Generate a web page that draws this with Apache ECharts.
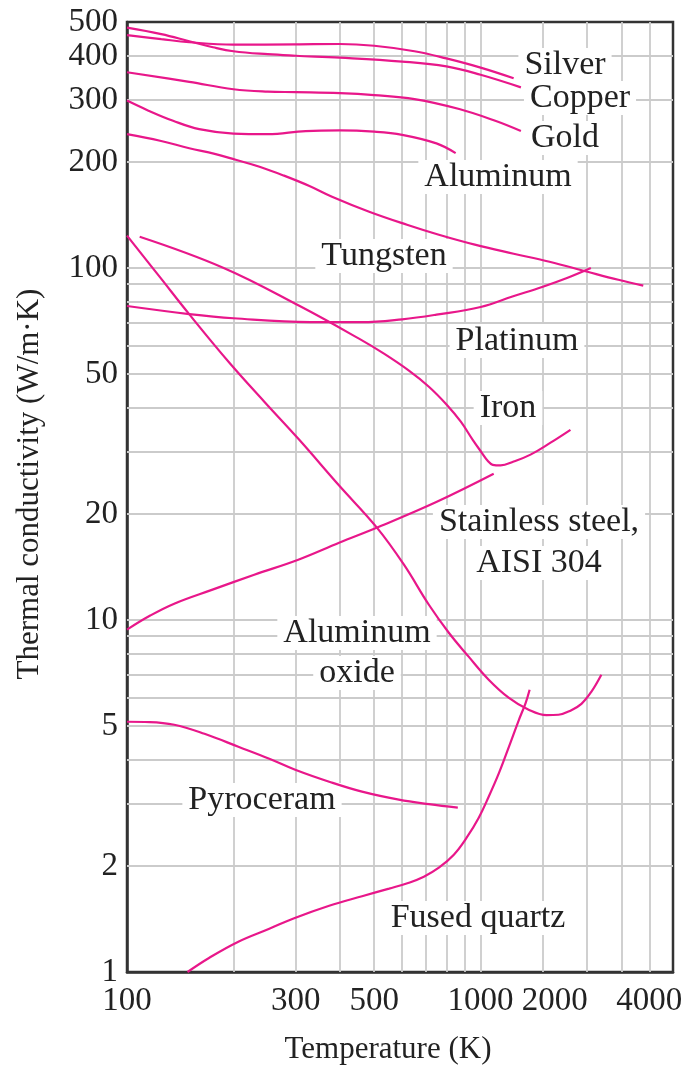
<!DOCTYPE html>
<html>
<head>
<meta charset="utf-8">
<title>Thermal conductivity of selected solids</title>
<script src="https://cdn.jsdelivr.net/npm/echarts@6/dist/echarts.min.js"></script>
<style>
  html, body { margin: 0; padding: 0; background: #fff; }
  #main { width: 687px; height: 1068px; }
</style>
</head>
<body>
<div id="main"></div>
<script>
// temperatures (K) and conductivities (W/m.K)
var silverT = [100, 125, 150, 200, 300, 400, 500, 650, 800, 1000, 1240];
var silverK = [459, 447, 438, 431, 432, 433, 428, 413, 394, 371, 346];

var copperT = [100, 125, 150, 175, 200, 250, 300, 400, 600, 800, 1000, 1300];
var copperK = [482, 462, 441, 424, 413, 405, 401, 396, 386, 374, 354, 326];

var goldT = [100, 150, 200, 250, 300, 400, 500, 650, 870, 1100, 1300];
var goldK = [360, 338, 322, 317, 316, 314, 310, 302, 283, 262, 245];

var aluminumT = [100, 115, 135, 160, 200, 250, 320, 400, 500, 600, 750, 850];
var aluminumK = [299, 280, 262, 248, 241, 240, 245, 246, 244, 239, 226, 212];

var tungstenT = [100, 124, 150, 177, 203, 237, 278, 328, 380, 484, 619, 762, 963, 1240, 1566, 2004, 2452, 2884];
var tungstenK = [240, 230, 219, 211, 203, 194, 183, 171, 159.4, 144.5, 132.7, 124.3, 116.5, 109.8, 104.2, 97.6, 92.6, 89.1];

var platinumT = [100, 150, 200, 330, 460, 600, 750, 1000, 1230, 1500, 1770, 2050];
var platinumK = [78, 74, 72, 70.2, 70.2, 71.5, 73.7, 77.5, 83, 88.5, 94, 100];

var ironT = [108.6, 187, 307, 453, 533, 627, 714, 802, 879, 950, 1007, 1047, 1082, 1139, 1240, 1384, 1577, 1795];
var ironK = [122.7, 100.2, 78.1, 63, 57.1, 51.1, 46, 40.9, 36.6, 32.5, 29.9, 28.35, 27.6, 27.5, 28.2, 29.5, 31.9, 34.7];

var steelT = [100, 116, 136, 174.5, 229, 305, 398, 516, 752, 1089];
var steelK = [9.39, 10.28, 11.13, 12.2, 13.45, 14.84, 16.58, 18.41, 21.68, 26.04];

var oxideT = [100, 123.6, 150.3, 194.8, 244.5, 307, 398, 509, 607, 714, 813, 925, 1054, 1200, 1367, 1536, 1660, 1795, 1928, 2058, 2195];
var oxideK = [123.6, 94.5, 73.7, 53.8, 41.7, 32.5, 24.1, 18.3, 14.36, 11.05, 9.2, 7.87, 6.77, 6.02, 5.56, 5.365, 5.38, 5.525, 5.78, 6.26, 6.99];

var pyroceramT = [100, 116, 136, 165.6, 206.5, 252.6, 299, 373, 462, 587, 714, 862];
var pyroceramK = [5.14, 5.13, 5.04, 4.75, 4.365, 4.036, 3.755, 3.472, 3.253, 3.087, 2.997, 2.93];

var quartzT = [148.3, 171, 206.5, 252.6, 297, 373, 462, 551, 627, 691, 762, 840, 913, 988, 1054, 1125, 1200, 1281, 1341, 1376];
var quartzK = [1.0, 1.098, 1.219, 1.327, 1.422, 1.543, 1.642, 1.725, 1.793, 1.865, 1.978, 2.154, 2.407, 2.744, 3.148, 3.66, 4.34, 5.18, 5.82, 6.34];

// axis ticks and grid
var xTickText = ['100', '300', '500', '1000', '2000', '4000'];
var xTickAt = [100, 300, 500, 1000, 1620, 3000];
var yTicks = [1, 2, 5, 10, 20, 50, 100, 200, 300, 400, 500];
var xGrid = [200, 300, 400, 500, 600, 700, 800, 900, 1000, 1500, 2000, 2500, 3000];
var yGrid = [2, 3, 4, 5, 6, 7, 8, 9, 10, 20, 30, 40, 50, 60, 70, 80, 90, 100, 200, 300, 400];

var PINK = '#e8178a';
var SERIF = '"Liberation Serif", "DejaVu Serif", serif';

function pairs(t, k) {
  return t.map(function (v, i) { return [v, k[i]]; });
}

function curve(name, t, k) {
  return {
    name: name,
    type: 'line',
    data: pairs(t, k),
    smooth: 0.4,
    symbol: 'none',
    z: 3,
    lineStyle: { color: PINK, width: 2.2 },
    emphasis: { disabled: true }
  };
}

function label(text, x, y) {
  return {
    type: 'text',
    x: x,
    y: y,
    z: 2,
    silent: true,
    style: {
      text: text,
      font: '34px ' + SERIF,
      fill: '#222',
      align: 'center',
      verticalAlign: 'middle',
      backgroundColor: '#fff',
      padding: [0, 6]
    }
  };
}

var series = [
  curve('Silver', silverT, silverK),
  curve('Copper', copperT, copperK),
  curve('Gold', goldT, goldK),
  curve('Aluminum', aluminumT, aluminumK),
  curve('Tungsten', tungstenT, tungstenK),
  curve('Platinum', platinumT, platinumK),
  curve('Iron', ironT, ironK),
  curve('Stainless steel, AISI 304', steelT, steelK),
  curve('Aluminum oxide', oxideT, oxideK),
  curve('Pyroceram', pyroceramT, pyroceramK),
  curve('Fused quartz', quartzT, quartzK)
];

// grid lines of the log paper, drawn under the curves
series[0].markLine = {
  silent: true,
  z: 1,
  symbol: ['none', 'none'],
  animation: false,
  label: { show: false },
  emphasis: { disabled: true },
  lineStyle: { color: '#cbcbcb', width: 1.8, type: 'solid' },
  data: xGrid.map(function (v) { return { xAxis: v }; })
    .concat(yGrid.map(function (v) { return { yAxis: v }; }))
};

var chart = echarts.init(document.getElementById('main'), null, { renderer: 'canvas' });

var option = {
  animation: false,
  backgroundColor: '#fff',
  grid: {
    left: 127, right: 14, top: 22, bottom: 96,
    show: true,
    borderColor: '#333',
    borderWidth: 2.5,
    containLabel: false,
    outerBoundsMode: 'none'
  },
  xAxis: {
    type: 'log',
    logBase: 10,
    min: 100,
    max: 3500,
    name: 'Temperature (K)',
    nameLocation: 'middle',
    nameGap: 62,
    nameTextStyle: { fontFamily: SERIF, fontSize: 31, color: '#222', padding: [0, 24, 0, 0] },
    axisLine: { show: true, lineStyle: { color: '#333', width: 2.5 } },
    axisTick: { show: false },
    splitLine: { show: false },
    axisLabel: {
      customValues: xTickAt,
      margin: 13,
      fontFamily: SERIF,
      fontSize: 33,
      color: '#222',
      formatter: function (v) {
        var best = 0;
        for (var i = 1; i < xTickAt.length; i++) {
          if (Math.abs(Math.log(xTickAt[i] / v)) < Math.abs(Math.log(xTickAt[best] / v))) best = i;
        }
        return xTickText[best];
      }
    }
  },
  yAxis: {
    type: 'log',
    logBase: 10,
    min: 1,
    max: 500,
    name: 'Thermal conductivity (W/m·K)',
    nameLocation: 'middle',
    nameGap: 82,
    nameTextStyle: { fontFamily: SERIF, fontSize: 31, color: '#222', padding: [0, 0, 0, 26] },
    axisLine: { show: true, lineStyle: { color: '#333', width: 2.5 } },
    axisTick: { show: false },
    splitLine: { show: false },
    axisLabel: {
      customValues: yTicks,
      margin: 9,
      fontFamily: SERIF,
      fontSize: 33,
      color: '#222',
      formatter: function (v) { return String(Math.round(v)); }
    }
  },
  graphic: [
    label('Silver', 565, 65),
    label('Copper', 580, 98),
    label('Gold', 565, 138),
    label('Aluminum', 498, 177),
    label('Tungsten', 384, 256),
    label('Platinum', 517, 341),
    label('Iron', 508, 408),
    label('Stainless steel,', 539, 522),
    label('AISI 304', 539, 563),
    label('Aluminum', 357, 633),
    label('oxide', 357, 673),
    label('Pyroceram', 262, 800),
    label('Fused quartz', 478, 918)
  ],
  series: series
};

chart.setOption(option);
</script>
</body>
</html>
